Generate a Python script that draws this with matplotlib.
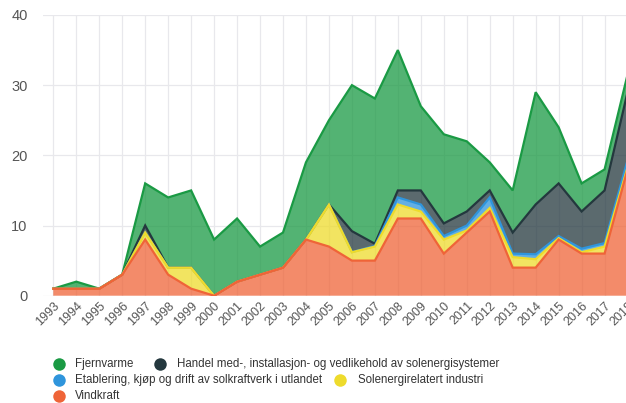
import numpy as np
import matplotlib
matplotlib.use("Agg")
import matplotlib.pyplot as plt
from matplotlib.lines import Line2D

plt.rcParams['font.family'] = ['Liberation Sans', 'DejaVu Sans']

years = list(range(1993, 2019))

# Stacked series, bottom to top
vindkraft = [1, 1, 1, 3, 8, 3, 1, 0, 2, 3, 4, 8, 7, 5, 5, 11, 11, 6, 9, 12, 4, 4, 8, 6, 6, 18]
solenergi_industri = [0, 0, 0, 0, 1, 1, 3, 0, 0, 0, 0, 0, 6, 1.2, 2, 2, 1, 2, 0.3, 0.5, 1.5, 1.2, 0.2, 0.2, 1, 0.3]
etablering = [0, 0, 0, 0, 0, 0, 0, 0, 0, 0, 0, 0, 0, 0, 0.1, 1, 1, 0.5, 0.7, 1.5, 0.5, 0.7, 0.3, 0.5, 0.5, 1]
handel = [0, 0, 0, 0, 1, 0, 0, 0, 0, 0, 0, 0, 0, 3, 0.3, 1, 2, 1.8, 2, 1, 3, 7.1, 7.5, 5.3, 7.5, 9.7]
fjernvarme = [0, 1, 0, 0, 6, 10, 11, 8, 9, 4, 5, 11, 12, 20.8, 20.7, 20, 12, 12.7, 10, 4, 6, 16, 8, 4, 3, 2.5]

labels = {
    'fjernvarme': 'Fjernvarme',
    'handel': 'Handel med-, installasjon- og vedlikehold av solenergisystemer',
    'etablering': 'Etablering, kjøp og drift av solkraftverk i utlandet',
    'industri': 'Solenergirelatert industri',
    'vindkraft': 'Vindkraft',
}
colors = {
    'fjernvarme': '#1a9a44',
    'handel': '#24383e',
    'etablering': '#2f95dc',
    'industri': '#eedb2c',
    'vindkraft': '#ef6438',
}

W, H = 626, 403
fig = plt.figure(figsize=(W / 100, H / 100), dpi=100)
# plot area: y=0 at 295.7 px, y=40 at 15 px; x runs a little past the right edge
left_px, right_px, top_px, bot_px = 43, 639, 15, 295.7
ax = fig.add_axes([left_px / W, 1 - bot_px / H, (right_px - left_px) / W, (bot_px - top_px) / H])

x = np.array(years)
stack_order = ['vindkraft', 'industri', 'etablering', 'handel', 'fjernvarme']
data = {
    'vindkraft': np.array(vindkraft, float),
    'industri': np.array(solenergi_industri, float),
    'etablering': np.array(etablering, float),
    'handel': np.array(handel, float),
    'fjernvarme': np.array(fjernvarme, float),
}
bottoms = {}
tops = {}
base = np.zeros(len(x))
for key in stack_order:
    bottoms[key] = base.copy()
    base = base + data[key]
    tops[key] = base.copy()

# series drawn top-of-stack first so lower series' lines sit above
for z, key in enumerate(reversed(stack_order)):
    ax.fill_between(x, bottoms[key], tops[key], facecolor=colors[key], alpha=0.75,
                    linewidth=0, zorder=2 + z)
    ax.plot(x, tops[key], color=colors[key], lw=1.6, zorder=2.5 + z,
            solid_joinstyle='miter')

xl_left = 1993 - (53.3 - left_px) / 22.97
xl_right = 1993 + (right_px - 53.3) / 22.97
ax.set_xlim(xl_left, xl_right)
ax.set_ylim(0, 40)
ax.set_yticks([0, 10, 20, 30, 40])
ax.set_xticks(years)
ax.set_xticklabels([str(y) for y in years], rotation=45, ha='right',
                   rotation_mode='anchor', fontsize=9, color='#555555')
ax.tick_params(axis='x', length=0, pad=3)
ax.tick_params(axis='y', length=0, pad=11, labelsize=10.5, labelcolor='#555555')
ax.grid(True, color='#e8e8ec', lw=0.9, zorder=0)
ax.set_axisbelow(True)
for s in ax.spines.values():
    s.set_visible(False)

# legend laid out in rows
legend_items = [
    ('fjernvarme', 59, 364, 75),
    ('handel', 160, 364, 177),
    ('etablering', 59, 380, 75),
    ('industri', 340, 380, 358),
    ('vindkraft', 59, 396, 75),
]
for key, cx, cy, tx in legend_items:
    fig.add_artist(Line2D([cx / W], [1 - cy / H], marker='o', markersize=9,
                          color=colors[key], markeredgewidth=0, linestyle='none',
                          transform=fig.transFigure))
    fig.text(tx / W, 1 - cy / H, labels[key], fontsize=8.3, color='#333333',
             va='center', ha='left')

fig.savefig('out.png', dpi=100)
